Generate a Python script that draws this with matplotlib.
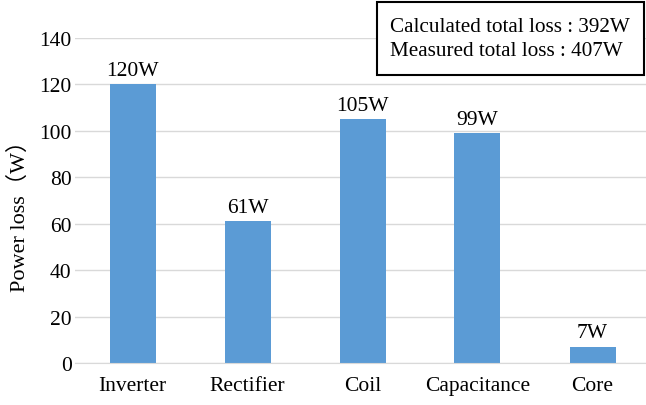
import matplotlib.pyplot as plt
from matplotlib.patches import Rectangle

# power loss breakdown
parts = ["Inverter", "Rectifier", "Coil", "Capacitance", "Core"]
loss_w = [120, 61, 105, 99, 7]
calc_total = 392
meas_total = 407

BAR = "#5B9BD5"
GRID = "#D9D9D9"

plt.rcParams["font.family"] = ["Liberation Serif", "Noto Sans CJK JP"]
plt.rcParams["font.size"] = 15.5

fig = plt.figure(figsize=(6.46, 4.06), dpi=100)
ax = fig.add_axes([75 / 646, 0.103, 575 / 646, 0.801])

x = range(len(parts))
bars = ax.bar(x, loss_w, width=0.40, color=BAR, zorder=2)
for b, v in zip(bars, loss_w):
    ax.text(b.get_x() + b.get_width() / 2, v + 2, f"{v}W",
            ha="center", va="bottom", fontsize=15.5)

ax.set_xlim(-0.5, len(parts) - 0.5)
ax.set_ylim(0, 140)
ax.set_yticks(range(0, 141, 20))
ax.set_xticks(list(x))
ax.set_xticklabels(parts)
ax.tick_params(length=0)
ax.tick_params(axis="y", pad=2.5)
ax.tick_params(axis="x", pad=9)
ax.grid(axis="y", color=GRID, linewidth=1, zorder=0)
for s in ["top", "right", "left"]:
    ax.spines[s].set_visible(False)
ax.spines["bottom"].set_color(GRID)
ax.set_ylabel("Power loss（W）", fontsize=16)
ax.yaxis.set_label_coords(-0.078, 0.47)

# totals box
fig.patches.append(Rectangle((377 / 646, 1 - 76 / 406), 267 / 646, 73 / 406,
                             transform=fig.transFigure, facecolor="white",
                             edgecolor="black", linewidth=1.5, zorder=5))
fig.text(390 / 646, 1 - 27 / 406, f"Calculated total loss : {calc_total}W",
         va="center", ha="left", fontsize=15.2, zorder=6)
fig.text(390 / 646, 1 - 51 / 406, f"Measured total loss : {meas_total}W",
         va="center", ha="left", fontsize=15.2, zorder=6)

fig.savefig("out.png", dpi=100)
